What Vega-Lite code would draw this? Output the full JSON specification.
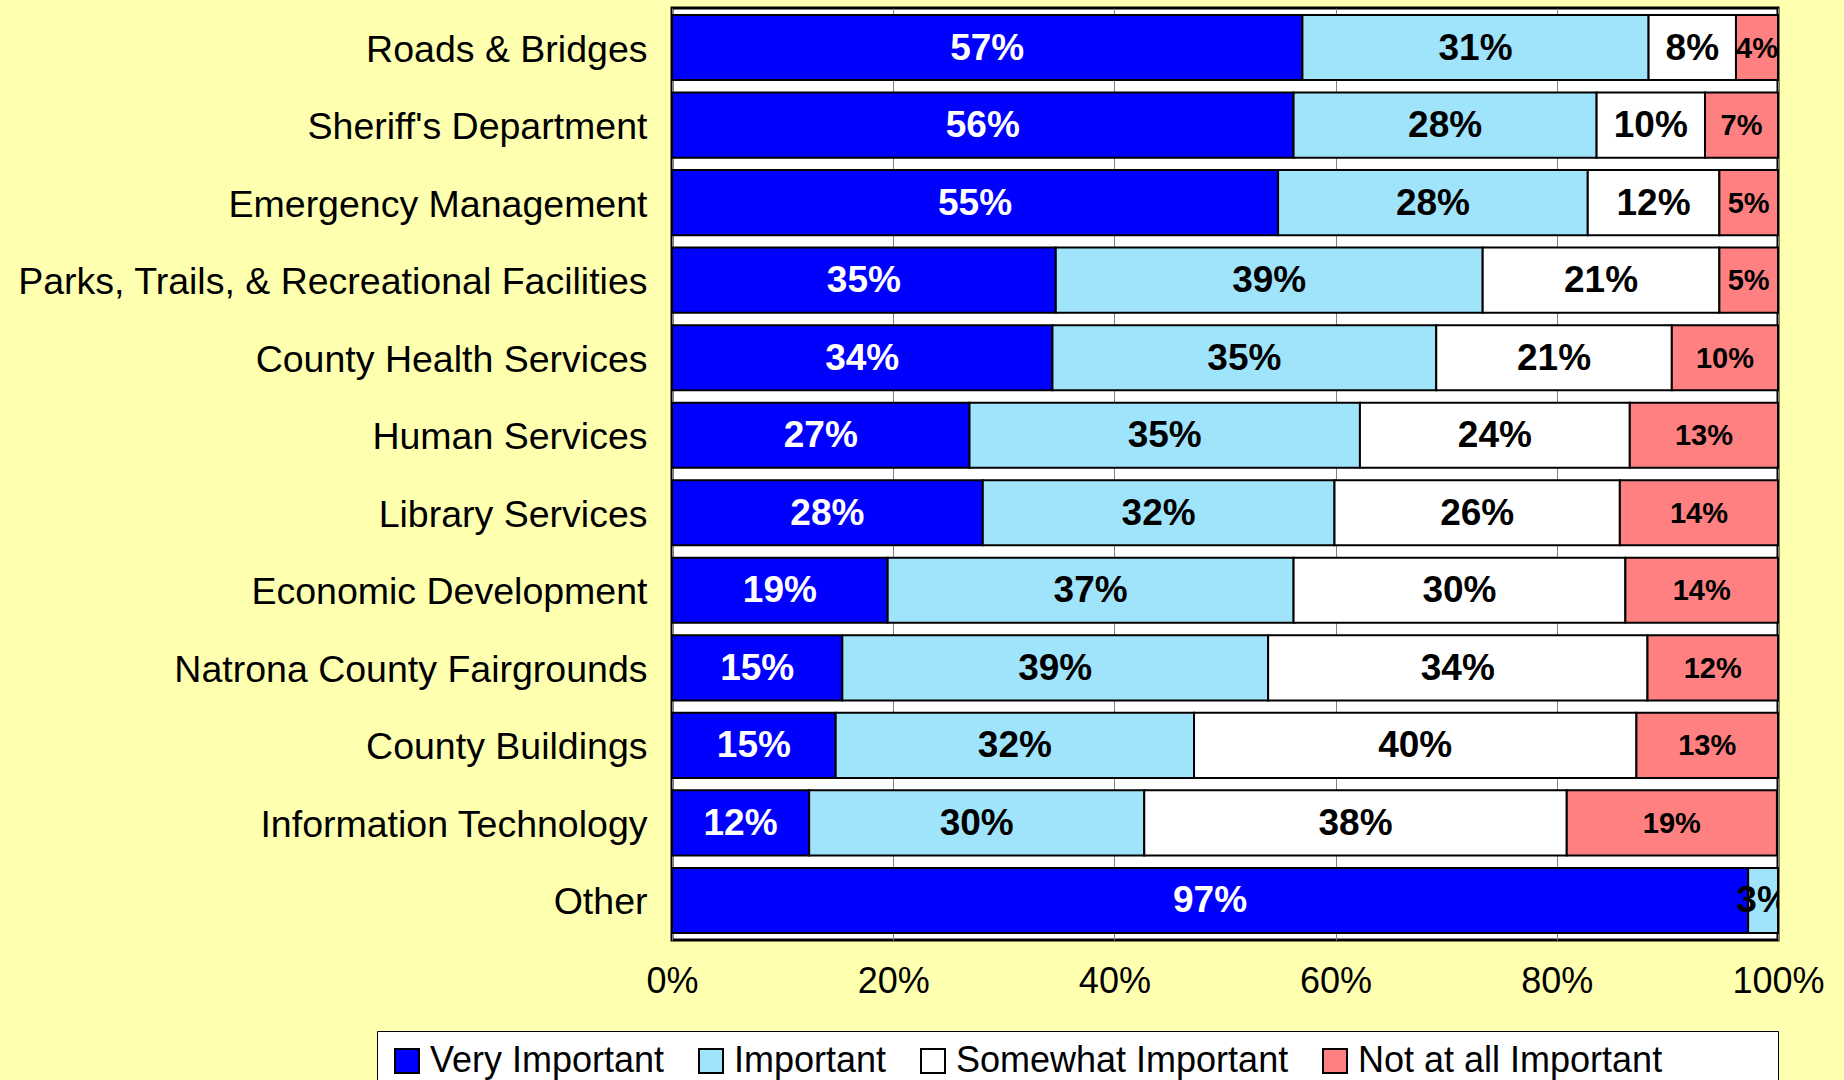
{
  "$schema": "https://vega.github.io/schema/vega-lite/v6.json",
  "width": 1106,
  "height": 932,
  "autosize": {"type": "none"},
  "padding": {"left": 672, "top": 8, "right": 66, "bottom": 140},
  "background": "#FFFFB0",
  "config": {
    "view": {"fill": "white", "stroke": "black", "strokeWidth": 3},
    "font": "Liberation Sans"
  },
  "data": {
    "values": [
      {"service": "Roads & Bridges", "cat": "Very Important", "k": 1, "pct": 57.0, "label": "57%"},
      {"service": "Roads & Bridges", "cat": "Important", "k": 2, "pct": 31.3, "label": "31%"},
      {"service": "Roads & Bridges", "cat": "Somewhat Important", "k": 3, "pct": 7.9, "label": "8%"},
      {"service": "Roads & Bridges", "cat": "Not at all Important", "k": 4, "pct": 3.8, "label": "4%"},
      {"service": "Sheriff's Department", "cat": "Very Important", "k": 1, "pct": 56.2, "label": "56%"},
      {"service": "Sheriff's Department", "cat": "Important", "k": 2, "pct": 27.4, "label": "28%"},
      {"service": "Sheriff's Department", "cat": "Somewhat Important", "k": 3, "pct": 9.8, "label": "10%"},
      {"service": "Sheriff's Department", "cat": "Not at all Important", "k": 4, "pct": 6.6, "label": "7%"},
      {"service": "Emergency Management", "cat": "Very Important", "k": 1, "pct": 54.8, "label": "55%"},
      {"service": "Emergency Management", "cat": "Important", "k": 2, "pct": 28.0, "label": "28%"},
      {"service": "Emergency Management", "cat": "Somewhat Important", "k": 3, "pct": 11.9, "label": "12%"},
      {"service": "Emergency Management", "cat": "Not at all Important", "k": 4, "pct": 5.3, "label": "5%"},
      {"service": "Parks, Trails, & Recreational Facilities", "cat": "Very Important", "k": 1, "pct": 34.7, "label": "35%"},
      {"service": "Parks, Trails, & Recreational Facilities", "cat": "Important", "k": 2, "pct": 38.6, "label": "39%"},
      {"service": "Parks, Trails, & Recreational Facilities", "cat": "Somewhat Important", "k": 3, "pct": 21.4, "label": "21%"},
      {"service": "Parks, Trails, & Recreational Facilities", "cat": "Not at all Important", "k": 4, "pct": 5.3, "label": "5%"},
      {"service": "County Health Services", "cat": "Very Important", "k": 1, "pct": 34.4, "label": "34%"},
      {"service": "County Health Services", "cat": "Important", "k": 2, "pct": 34.7, "label": "35%"},
      {"service": "County Health Services", "cat": "Somewhat Important", "k": 3, "pct": 21.3, "label": "21%"},
      {"service": "County Health Services", "cat": "Not at all Important", "k": 4, "pct": 9.6, "label": "10%"},
      {"service": "Human Services", "cat": "Very Important", "k": 1, "pct": 26.9, "label": "27%"},
      {"service": "Human Services", "cat": "Important", "k": 2, "pct": 35.3, "label": "35%"},
      {"service": "Human Services", "cat": "Somewhat Important", "k": 3, "pct": 24.4, "label": "24%"},
      {"service": "Human Services", "cat": "Not at all Important", "k": 4, "pct": 13.4, "label": "13%"},
      {"service": "Library Services", "cat": "Very Important", "k": 1, "pct": 28.1, "label": "28%"},
      {"service": "Library Services", "cat": "Important", "k": 2, "pct": 31.8, "label": "32%"},
      {"service": "Library Services", "cat": "Somewhat Important", "k": 3, "pct": 25.8, "label": "26%"},
      {"service": "Library Services", "cat": "Not at all Important", "k": 4, "pct": 14.3, "label": "14%"},
      {"service": "Economic Development", "cat": "Very Important", "k": 1, "pct": 19.5, "label": "19%"},
      {"service": "Economic Development", "cat": "Important", "k": 2, "pct": 36.7, "label": "37%"},
      {"service": "Economic Development", "cat": "Somewhat Important", "k": 3, "pct": 30.0, "label": "30%"},
      {"service": "Economic Development", "cat": "Not at all Important", "k": 4, "pct": 13.8, "label": "14%"},
      {"service": "Natrona County Fairgrounds", "cat": "Very Important", "k": 1, "pct": 15.4, "label": "15%"},
      {"service": "Natrona County Fairgrounds", "cat": "Important", "k": 2, "pct": 38.5, "label": "39%"},
      {"service": "Natrona County Fairgrounds", "cat": "Somewhat Important", "k": 3, "pct": 34.3, "label": "34%"},
      {"service": "Natrona County Fairgrounds", "cat": "Not at all Important", "k": 4, "pct": 11.8, "label": "12%"},
      {"service": "County Buildings", "cat": "Very Important", "k": 1, "pct": 14.8, "label": "15%"},
      {"service": "County Buildings", "cat": "Important", "k": 2, "pct": 32.4, "label": "32%"},
      {"service": "County Buildings", "cat": "Somewhat Important", "k": 3, "pct": 40.0, "label": "40%"},
      {"service": "County Buildings", "cat": "Not at all Important", "k": 4, "pct": 12.8, "label": "13%"},
      {"service": "Information Technology", "cat": "Very Important", "k": 1, "pct": 12.4, "label": "12%"},
      {"service": "Information Technology", "cat": "Important", "k": 2, "pct": 30.3, "label": "30%"},
      {"service": "Information Technology", "cat": "Somewhat Important", "k": 3, "pct": 38.2, "label": "38%"},
      {"service": "Information Technology", "cat": "Not at all Important", "k": 4, "pct": 19.0, "label": "19%"},
      {"service": "Other", "cat": "Very Important", "k": 1, "pct": 97.3, "label": "97%"},
      {"service": "Other", "cat": "Important", "k": 2, "pct": 2.7, "label": "3%"}
    ]
  },
  "transform": [
    {"stack": "pct", "groupby": ["service"], "sort": [{"field": "k", "order": "ascending"}], "as": ["x0", "x1"]}
  ],
  "encoding": {
    "y": {
      "field": "service",
      "type": "nominal",
      "sort": ["Roads & Bridges", "Sheriff's Department", "Emergency Management", "Parks, Trails, & Recreational Facilities", "County Health Services", "Human Services", "Library Services", "Economic Development", "Natrona County Fairgrounds", "County Buildings", "Information Technology", "Other"],
      "scale": {"paddingInner": 0.16, "paddingOuter": 0.09},
      "axis": {"title": null, "ticks": false, "domain": false, "labelFontSize": 37.5, "labelPadding": 25, "labelOffset": 3, "labelColor": "black", "labelLimit": 0, "labelFont": "Liberation Sans"}
    }
  },
  "layer": [
    {
      "mark": {"type": "bar", "stroke": "black", "strokeWidth": 2},
      "encoding": {
        "x": {
          "field": "x0",
          "type": "quantitative",
          "scale": {"domain": [0, 100], "nice": false},
          "axis": {"title": null, "values": [0, 20, 40, 60, 80, 100], "labelExpr": "datum.value + '%'", "grid": true, "gridColor": "#808080", "gridWidth": 1, "ticks": false, "domain": false, "labelFontSize": 36, "labelPadding": 24, "labelColor": "black", "labelFont": "Liberation Sans", "labelFlush": false}
        },
        "x2": {"field": "x1"},
        "color": {
          "field": "cat",
          "type": "nominal",
          "scale": {"domain": ["Very Important", "Important", "Somewhat Important", "Not at all Important"], "range": ["#0000FF", "#A0E4FC", "#FFFFFF", "#FF8080"]},
          "legend": {"orient": "none", "legendX": -295, "legendY": 1023, "direction": "horizontal", "title": "\u00a0", "titleOrient": "right", "titlePadding": 104, "titleFontSize": 36, "fillColor": "white", "strokeColor": "black", "padding": 12, "symbolType": "square", "symbolSize": 576, "symbolStrokeColor": "black", "symbolStrokeWidth": 2, "symbolOpacity": 1, "labelFontSize": 36, "labelFont": "Liberation Sans", "labelColor": "black", "labelOffset": 5, "columnPadding": 28, "labelLimit": 0}
        }
      }
    },
    {
      "transform": [
        {"fold": ["x0", "x1"], "as": ["edge", "pos"]},
        {"aggregate": [{"op": "mean", "field": "pos", "as": "mid"}], "groupby": ["service", "cat", "label"]}
      ],
      "mark": {"type": "text", "font": "Liberation Sans", "fontWeight": "bold", "clip": true, "dy": 1},
      "encoding": {
        "x": {"field": "mid", "type": "quantitative"},
        "text": {"field": "label"},
        "color": {"condition": {"test": "datum.cat === 'Very Important'", "value": "white"}, "value": "black"},
        "size": {"condition": {"test": "datum.cat === 'Not at all Important'", "value": 29}, "value": 37}
      }
    }
  ]
}
